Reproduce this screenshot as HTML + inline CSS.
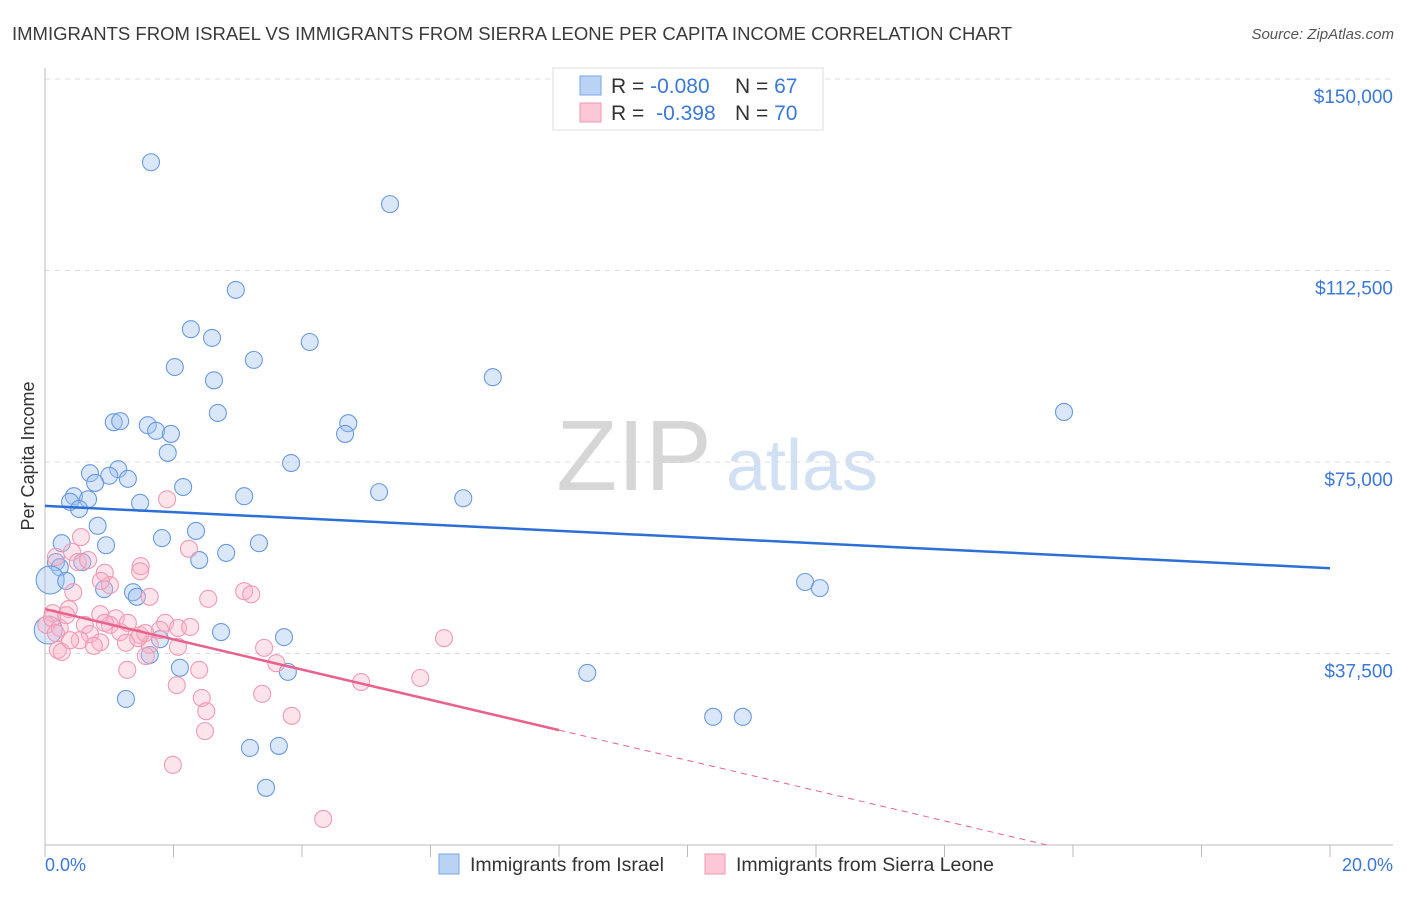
<!DOCTYPE html>
<html><head><meta charset="utf-8">
<style>
body{margin:0;background:#fff;font-family:"Liberation Sans",sans-serif;}
svg text{font-family:"Liberation Sans",sans-serif;}
</style></head>
<body>
<svg id="chart" width="1406" height="892" viewBox="0 0 1406 892" xmlns="http://www.w3.org/2000/svg">
<text x="12" y="40" font-size="18" fill="#3a3a3a" textLength="1000" lengthAdjust="spacingAndGlyphs">IMMIGRANTS FROM ISRAEL VS IMMIGRANTS FROM SIERRA LEONE PER CAPITA INCOME CORRELATION CHART</text>
<text x="1394" y="39" font-size="15" fill="#555" font-style="italic" text-anchor="end">Source: ZipAtlas.com</text>
<g>
<text x="634" y="490" font-size="100" fill="#d6d6d6" font-family="Liberation Serif" text-anchor="middle">ZIP</text>
<text x="802" y="490" font-size="72" fill="#d2e0f3" text-anchor="middle">atlas</text>
</g>
<g id="grid"></g>
<g id="axes"></g>
<g id="pts"></g>
<g id="lines"></g>
<text transform="translate(34,456) rotate(-90)" font-size="18" fill="#333" text-anchor="middle">Per Capita Income</text>
<g>
<rect x="553" y="68" width="270" height="62" fill="#fff" stroke="#ddd"/>
<rect x="580" y="76" width="21" height="19" fill="#b9d3f5" stroke="#7aa6e6"/>
<rect x="580" y="103" width="21" height="19" fill="#fcc7d6" stroke="#ee9ab2"/>
<text x="611" y="93" font-size="21" fill="#333">R = <tspan fill="#3b78d8">-0.080</tspan><tspan x="735">N = </tspan><tspan fill="#3b78d8">67</tspan></text>
<text x="611" y="120" font-size="21" fill="#333">R = <tspan fill="#3b78d8" dx="6">-0.398</tspan><tspan x="735">N = </tspan><tspan fill="#3b78d8">70</tspan></text>
</g>
<g>
<rect x="439" y="854" width="20" height="20" fill="#b9d3f5" stroke="#7aa6e6"/>
<text x="470" y="871" font-size="19.5" fill="#333">Immigrants from Israel</text>
<rect x="705" y="854" width="20" height="20" fill="#fcc7d6" stroke="#ee9ab2"/>
<text x="736" y="871" font-size="19.5" fill="#333">Immigrants from Sierra Leone</text>
</g>
<text x="45" y="871" font-size="18" fill="#3b78d8">0.0%</text>
<text x="1393" y="871" font-size="18" fill="#3b78d8" text-anchor="end">20.0%</text>
</svg>
<script>
const yTicks=[37500,75000,112500,150000];
const yTickLabels=["$37,500","$75,000","$112,500","$150,000"];
const xTicks=[0,2,4,6,8,10,12,14,16,18,20];
const israelX=[1.65,5.37,2.97,2.27,2.60,4.12,3.25,2.02,6.97,2.63,2.69,15.86,1.07,1.17,1.60,1.73,1.96,4.72,4.67,1.91,3.83,0.70,1.14,1.00,0.78,1.29,2.15,5.20,3.10,6.51,0.45,0.39,0.67,1.48,0.53,0.82,2.35,1.82,0.26,0.95,3.33,2.82,2.40,0.17,0.58,0.23,0.08,0.33,0.92,1.37,1.43,11.83,12.06,1.79,2.74,3.72,1.63,2.10,3.78,8.44,1.26,10.40,10.86,3.19,3.64,3.44,0.05];
const israelY=[133700,125500,108700,101000,99300,98500,95000,93600,91600,91000,84600,84800,82800,83000,82200,81100,80500,82600,80500,76800,74800,72800,73600,72300,70900,71700,70100,69100,68300,67900,68300,67200,67700,67000,65800,62500,61500,60100,59100,58700,59100,57200,55800,55400,55400,54400,51900,51700,50100,49500,48600,51500,50300,40300,41700,40700,37200,34700,33900,33700,28600,25100,25100,19000,19400,11200,42100];
const israelBig=[46,66];
const leoneX=[1.90,0.56,0.42,0.17,0.51,0.93,1.49,1.01,0.87,2.24,1.48,3.10,3.21,2.54,1.63,0.44,0.37,0.86,1.10,1.87,0.12,0.02,0.23,0.62,0.70,1.01,1.17,1.48,1.79,2.07,2.26,1.26,1.63,0.86,0.54,0.20,0.26,0.76,2.07,3.41,0.39,1.45,0.93,1.29,1.56,1.57,3.60,2.40,1.28,2.44,2.05,3.38,3.84,2.51,2.49,4.92,5.84,6.21,1.99,4.33,0.67,0.11,0.33,0.17];
const leoneY=[67700,60300,57400,56400,55400,53300,54600,50900,51700,58000,53600,49700,49100,48200,48600,49500,46200,45200,44400,43500,45400,43100,42500,43100,41300,43100,41700,41100,42100,42500,42700,39600,39200,39700,40100,38200,37800,39000,38800,38600,40100,40500,43500,43500,41500,37000,35600,34300,34300,28800,31300,29600,25300,26200,22300,31900,32700,40500,15700,5100,55800,44400,45000,41500];
const israelTrend=[66400,54200];
const leoneTrend=[46200,22500];
const NS="http://www.w3.org/2000/svg";
const X0=45,X1=1330,Y0=845,YTOP=79;
const xs=v=>X0+(X1-X0)*v/20;
const ys=v=>Y0-(Y0-YTOP)*v/150000;
function mk(tag,attrs,parent){const e=document.createElementNS(NS,tag);for(const k in attrs)e.setAttribute(k,attrs[k]);parent.appendChild(e);return e;}
const grid=document.getElementById('grid'),axes=document.getElementById('axes'),pts=document.getElementById('pts'),lines=document.getElementById('lines');
yTicks.forEach((t,i)=>{
 const l=mk('line',{x1:X0,x2:1393,y1:ys(t),y2:ys(t),stroke:'#ddd','stroke-dasharray':'5,5'},grid);
 
 
 const tx=mk('text',{x:1393,y:ys(t)+24,'font-size':19,fill:'#3b78d8','text-anchor':'end'},grid);
 tx.textContent=yTickLabels[i];
 
 
});
const ax=mk('line',{x1:X0,x2:X0,y1:68,y2:Y0,stroke:'#bbb'},axes);


const bx=mk('line',{x1:X0,x2:1393,y1:Y0,y2:Y0,stroke:'#bbb'},axes);


xTicks.forEach(t=>{
 const tk=mk('line',{x1:xs(t),x2:xs(t),y1:Y0,y2:Y0+12,stroke:'#bbb'},axes);
 
 
});
israelX.forEach((x,i)=>{
 const c=mk('circle',{cx:xs(x),cy:ys(israelY[i]),r:israelBig.includes(i)?14:8.5,fill:'rgba(160,196,240,0.4)',stroke:'#6a9ade','stroke-width':1.1},pts);
 
 
});
leoneX.forEach((x,i)=>{
 const c=mk('circle',{cx:xs(x),cy:ys(leoneY[i]),r:8.5,fill:'rgba(248,178,198,0.35)',stroke:'#ef9ab4','stroke-width':1.1},pts);
 
 
});
const bl=mk('line',{x1:xs(0),y1:ys(israelTrend[0]),x2:xs(20),y2:ys(israelTrend[1]),stroke:'#2c6fd6','stroke-width':2.5},lines);


const slope=(leoneTrend[1]-leoneTrend[0])/8;
const pl=mk('line',{x1:xs(0),y1:ys(leoneTrend[0]),x2:xs(8),y2:ys(leoneTrend[1]),stroke:'#e8628c','stroke-width':2.5},lines);


const xz=-leoneTrend[0]/slope;
const pd=mk('line',{x1:xs(8),y1:ys(leoneTrend[1]),x2:xs(xz),y2:ys(0),stroke:'#e8628c','stroke-width':1,'stroke-dasharray':'6,5'},lines);


</script>
</body></html>
